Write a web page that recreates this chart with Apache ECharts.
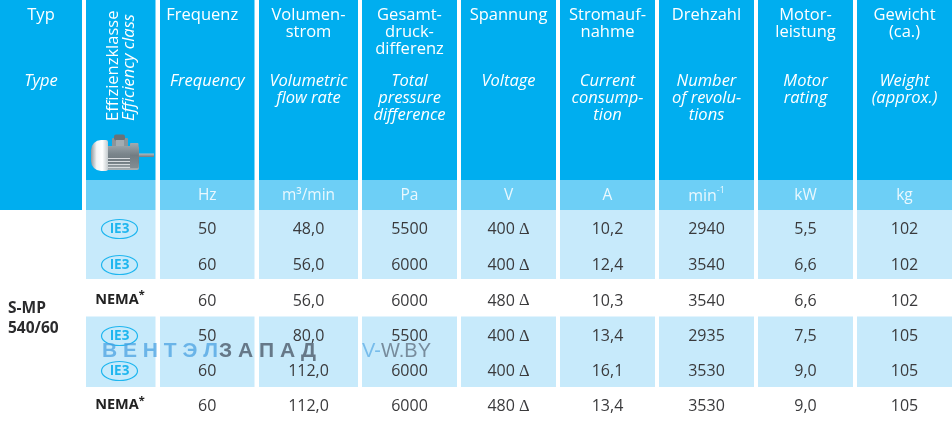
<!DOCTYPE html>
<html><head><meta charset="utf-8">
<style>html,body{margin:0;padding:0;background:#fff}#c{width:952px;height:427px}</style>
<script src="https://cdn.jsdelivr.net/npm/echarts@6/dist/echarts.min.js"></script>
</head><body><div id="c"></div>
<script>
var headersDe = ["Typ","","Frequenz","Volumen-\nstrom","Gesamt-\ndruck-\ndifferenz","Spannung","Stromauf-\nnahme","Drehzahl","Motor-\nleistung","Gewicht\n(ca.)"];
var headersEn = ["Type","","Frequency","Volumetric\nflow rate","Total\npressure\ndifference","Voltage","Current\nconsump-\ntion","Number\nof revolu-\ntions","Motor\nrating","Weight\n(approx.)"];
var units = ["","","Hz","m³/min","Pa","V","A","min|-1","kW","kg"];
var modelLines = ["S-MP","540/60"];
var efficiency = ["IE3","IE3","NEMA","IE3","IE3","NEMA"];
var frequency = ["50","60","60","50","60","60"];
var flowRate = ["48,0","56,0","56,0","80,0","112,0","112,0"];
var pressure = ["5500","6000","6000","5500","6000","6000"];
var voltage = ["400","400","480","400","400","480"];
var current = ["10,2","12,4","10,3","13,4","16,1","13,4"];
var speed = ["2940","3540","3540","2935","3530","3530"];
var power = ["5,5","6,6","6,6","7,5","9,0","9,0"];
var weight = ["102","102","102","105","105","105"];

// table layout (axis units equal page pixels)
var colEdges = [[0,82],[86,155.5],[160,254.5],[259,358],[362,457],[461,556],[560,655],[659,754],[758,853],[857,952]];
var rowCentres = [228,264,299.5,335,370,405];
var FONT = '"Open Sans","Noto Sans",sans-serif';
var DARK='#00aeef', MID='#6dcff6', LIGHT='#c7eafb', INK='#3a3a3c';

function centre(c){return (colEdges[c][0]+colEdges[c][1])/2;}

var bands=[];
colEdges.forEach(function(e,c){
  if(c===0){bands.push([e[0],e[1],0,210,DARK]);return;}
  bands.push([e[0],e[1],0,180,DARK]);
  bands.push([e[0],e[1],180,210,MID]);
  bands.push([e[0],e[1],210,279,LIGHT]);
  bands.push([e[0],e[1],316.5,387,LIGHT]);
});

var texts=[];
function T(x,y,text,o){texts.push({value:[x,y],text:text,o:o||{}});}
headersDe.forEach(function(h,c){ if(h) T(centre(c)+(c===2?-5:0),6.5,h,{color:'#fff',top:true}); });
headersEn.forEach(function(h,c){ if(h) T(centre(c),73,h,{color:'#fff',top:true,italic:true}); });
T(113,121,"Effizienzklasse",{color:'#fff',rot:true});
T(129,121,"Efficiency class",{color:'#fff',rot:true,italic:true});
units.forEach(function(u,c){
  if(!u) return;
  var p=u.split('|');
  T(centre(c),196,p.length>1?'{a|'+p[0]+'}{b|'+p[1]+'}':u,{color:'#eaf8fe',unit:true});
});
modelLines.forEach(function(m,i){ T(8,307+i*20,m,{bold:true,left:true,size:15.5,color:'#2b2b2d'}); });
var cols=[frequency,flowRate,pressure,voltage,current,speed,power,weight];
cols.forEach(function(arr,k){
  arr.forEach(function(v,r){
    T(centre(k+2),rowCentres[r],(arr===voltage)?'{a|'+v+' }{d|Δ}':v,{rich:arr===voltage,data:true,size:16});
  });
});
var badgeData=[];
efficiency.forEach(function(e,r){
  if(e==='IE3'){ badgeData.push([119.5,rowCentres[r]+1]); T(119.5,rowCentres[r]+1,'IE3',{color:'#1fb6ef',size:13.5,bold:true}); }
  else { T(120,rowCentres[r],'{n|'+e+'}{s|*}',{nema:true}); }
});

var wm=[
 {t:'В Е Н Т Э Л',x:102,y:351,c:'rgba(70,160,225,0.72)',w:'bold',s:21},
 {t:'З А П А Д',x:219,y:351,c:'rgba(85,100,115,0.85)',w:'bold',s:21},
 {t:'V-',x:362,y:351,c:'rgba(70,160,225,0.62)',w:'normal',s:20},
 {t:'W.BY',x:381,y:351,c:'rgba(85,100,115,0.7)',w:'normal',s:20}
];

var chart=echarts.init(document.getElementById('c'),null,{renderer:'canvas'});
function motorPart(shape,fill){return {type:'rect',z:5,silent:true,shape:shape,style:{fill:fill}};}
function grad(h,stops){return {type:'linear',x:0,y:0,x2:h?1:0,y2:h?0:1,colorStops:stops.map(function(c,i){return {offset:i/(stops.length-1),color:c};})};}
var motor=[
  motorPart({x:138,y:153.5,width:16,height:3.5},grad(false,['#b4bcc1','#727c82'])),
  motorPart({x:112,y:138,width:16,height:10,r:1},'#8b959a'),
  motorPart({x:114,y:134.5,width:11,height:6,r:2},'#687278'),
  motorPart({x:116,y:140,width:8,height:7},'#a3acb1'),
  motorPart({x:105,y:146,width:34,height:24,r:2},grad(false,['#98a2a7','#7a858b','#6f7a80','#aab3b7'])),
  motorPart({x:130,y:143,width:8.5,height:25,r:1},grad(false,['#a2abb0','#717c82','#828d93'])),
  motorPart({x:108,y:158,width:22,height:1},'#d6dbde'),
  motorPart({x:108,y:161,width:22,height:1},'#d6dbde'),
  motorPart({x:108,y:164,width:22,height:1},'#d6dbde'),
  motorPart({x:108,y:167,width:22,height:1},'#d6dbde'),
  motorPart({x:91,y:140,width:17,height:31,r:[10,2,2,10]},grad(true,['#8f999e','#f4f6f7','#ffffff','#c4cbce']))
];
chart.setOption({
  animation:false,
  backgroundColor:'#fff',
  grid:{left:0,right:0,top:0,bottom:0},
  xAxis:{type:'value',min:0,max:952,show:false},
  yAxis:{type:'value',min:0,max:427,inverse:true,show:false},
  series:[
   {type:'custom',silent:true,z:1,coordinateSystem:'cartesian2d',
    data:bands.map(function(b){return b.slice(0,4);}),
    renderItem:function(p,api){
      var a=api.coord([api.value(0),api.value(2)]),b=api.coord([api.value(1),api.value(3)]);
      return {type:'rect',shape:{x:a[0],y:a[1],width:b[0]-a[0],height:b[1]-a[1]},style:{fill:bands[p.dataIndex][4]}};
    }},
   {type:'custom',silent:true,z:2,data:badgeData,
    renderItem:function(p,api){
      var a=api.coord([api.value(0),api.value(1)]);
      return {type:'ellipse',shape:{cx:a[0],cy:a[1],rx:18,ry:9.5},style:{fill:'none',stroke:'#1fb6ef',lineWidth:1.2}};
    }},
   {type:'custom',silent:true,z:3,data:texts.map(function(t){return t.value;}),
    renderItem:function(p,api){
      var t=texts[p.dataIndex],o=t.o,a=api.coord([api.value(0),api.value(1)]);
      var y=a[1]+(o.data?1.5:0)+((o.left)?1.5:0);
      var st={text:t.text,x:0,y:0,fill:o.color||INK,fontFamily:FONT,fontSize:o.size||15.5,
        fontStyle:o.italic?'italic':'normal',fontWeight:o.bold?'bold':400,
        align:o.left||o.rot?'left':'center',verticalAlign:o.top?'top':'middle',lineHeight:o.top?17:20};
      if(o.top||o.rot) st.fontSize=16.5;
      if(o.rich) st.rich={a:{fontFamily:FONT,fontSize:16,fontWeight:400,fill:INK},d:{fontFamily:'"Liberation Serif",serif',fontWeight:400,fontSize:16.5,fill:INK}};
      if(o.unit) st.rich={a:{fontFamily:FONT,fontSize:16,fontWeight:400,fill:o.color},b:{fontFamily:FONT,fontSize:9,fontWeight:400,fill:o.color,verticalAlign:'top',padding:[0,0,6,0]}};
      if(o.nema) st.rich={n:{fontFamily:FONT,fontSize:14.5,fontWeight:'bold',fill:'#222'},s:{fontFamily:FONT,fontSize:11,fontWeight:'bold',fill:'#222',verticalAlign:'top'}};
      return {type:'text',x:a[0],y:y,rotation:o.rot?Math.PI/2:0,style:st};
    }}
  ],
  graphic:{elements:motor.concat(wm.map(function(w){return {type:'text',z:6,silent:true,x:w.x,y:w.y,style:{text:w.t,fill:w.c,fontFamily:'"Liberation Sans",Arial,sans-serif',fontWeight:w.w,fontSize:w.s,align:'left',verticalAlign:'middle'}};}))}
});
</script></body></html>
